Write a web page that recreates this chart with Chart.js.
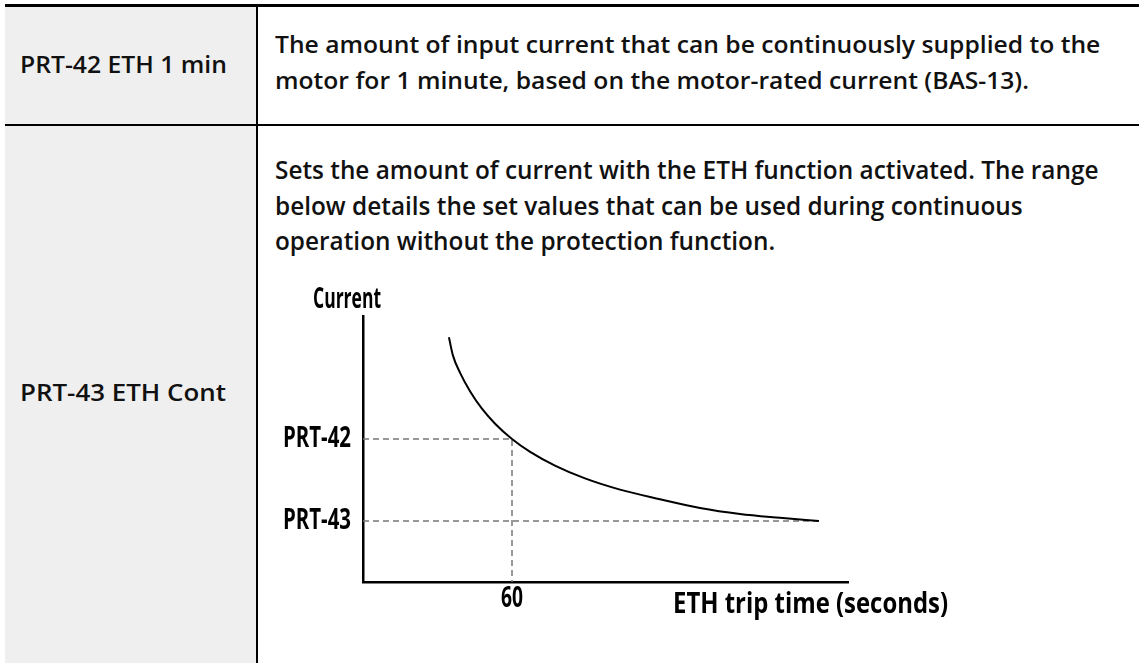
<!DOCTYPE html>
<html>
<head>
<meta charset="utf-8">
<script src="https://cdn.jsdelivr.net/npm/chart.js@4.4.1/dist/chart.umd.min.js"></script>
<style>
  html, body { margin: 0; padding: 0; background: #fff; }
  body {
    width: 1139px; height: 663px; position: relative; overflow: hidden;
    font-family: "Open Sans", sans-serif; font-weight: 600; color: #111;
  }
  .abs { position: absolute; }
  #labelCol { left: 5px; top: 6px; width: 251px; height: 657px; background: #efefef; }
  #topRule { left: 5px; top: 4px; width: 1134px; height: 3px; background: #000; }
  #colRule { left: 256px; top: 6px; width: 2px; height: 657px; background: #000; }
  #rowRule { left: 5px; top: 124px; width: 1134px; height: 2px; background: #000; }
  .fit { transform-origin: 0 0; white-space: nowrap; }
  .fit span { display: inline-block; }
  #row1Label { left: 20px; top: 46px; font-size: 23px; line-height: 36px; }
  #row1Desc { left: 275px; top: 26px; font-size: 23px; line-height: 36px; }
  #row2Label { left: 20px; top: 374px; font-size: 23px; line-height: 36px; }
  #row2Desc { left: 275px; top: 152px; font-size: 26px; line-height: 35.5px; }
  #ethChart { position: absolute; left: 270px; top: 266px; }
</style>
</head>
<body>
<div id="labelCol" class="abs"></div>
<div id="topRule" class="abs"></div>
<div id="colRule" class="abs"></div>
<div id="rowRule" class="abs"></div>

<div id="row1Label" class="abs fit"><div><span>PRT-42 ETH 1 min</span></div></div>
<div id="row1Desc" class="abs fit">
  <div><span>The amount of input current that can be continuously supplied to the</span></div>
  <div><span>motor for 1 minute, based on the motor-rated current (BAS-13).</span></div>
</div>
<div id="row2Label" class="abs fit"><div><span>PRT-43 ETH Cont</span></div></div>
<div id="row2Desc" class="abs fit">
  <div><span>Sets the amount of current with the ETH function activated. The range</span></div>
  <div><span>below details the set values that can be used during continuous</span></div>
  <div><span>operation without the protection function.</span></div>
</div>

<canvas id="ethChart" width="700" height="374"></canvas>

<script>
// curve (trip time in s, current in % of motor rating)
const tripTimes = [34.6, 36.2, 39.1, 43.1, 47.9, 53.2, 60, 67.3, 77.3, 89.4, 103.5, 119.6, 135.7, 151.8, 167.9, 183.6];
const currents = [187.2, 180.6, 174.2, 167.5, 161.1, 155.6, 150, 145.3, 140.3, 135.6, 131.5, 128.0, 124.8, 122.6, 121.2, 120];

const currentTicks = [120, 150];
const currentTickLabels = ['PRT-43', 'PRT-42'];
const timeTicks = [60];
const timeTickLabels = ['60'];
const timeRange = [0, 195.3];
const currentRange = [97.7, 195];

const currentTitle = 'Current';
const timeTitle = 'ETH trip time (seconds)';

function fitBlock(id, targetWidth) {
  const block = document.getElementById(id);
  const firstLine = block.querySelector('span');
  const k = targetWidth / firstLine.getBoundingClientRect().width;
  block.style.transform = 'scaleX(' + k.toFixed(3) + ')';
}

fitBlock('row1Label', 207);
fitBlock('row1Desc', 825);
fitBlock('row2Label', 206);
fitBlock('row2Desc', 823);

// guide lines for the two set points
const prt42Guide = [
  {x: timeRange[0], y: currentTicks[1]},
  {x: timeTicks[0], y: currentTicks[1]},
  {x: timeTicks[0], y: currentRange[0]}
];
const prt43Guide = [
  {x: timeRange[0], y: currentTicks[0]},
  {x: tripTimes[tripTimes.length - 1], y: currentTicks[0]}
];

// axis text is narrow in the original, so each piece is squeezed to its width
const axisText = {
  id: 'axisText',
  afterDraw(chart) {
    const {ctx, chartArea, scales} = chart;
    ctx.save();
    ctx.font = 'bold 29px "Open Sans"';
    ctx.fillStyle = '#000';
    ctx.textBaseline = 'alphabetic';
    const put = (text, x, y, align, width) => {
      const k = width / ctx.measureText(text).width;
      ctx.save();
      ctx.translate(x, y);
      ctx.scale(k, 1);
      ctx.textAlign = align;
      ctx.fillText(text, 0, 0);
      ctx.restore();
    };
    scales.y.ticks.forEach((t, i) => {
      put(currentTickLabels[i], chartArea.left - 12, scales.y.getPixelForValue(t.value) + 8, 'right', 68);
    });
    scales.x.ticks.forEach((t, i) => {
      put(timeTickLabels[i], scales.x.getPixelForValue(t.value), chartArea.bottom + 25, 'center', 22);
    });
    put(currentTitle, chartArea.left - 16, chartArea.top - 8, 'center', 68);
    put(timeTitle, chartArea.right - 175, chartArea.bottom + 31, 'left', 275);
    ctx.restore();
  }
};

const ctx = document.getElementById('ethChart').getContext('2d');
new Chart(ctx, {
  type: 'line',
  data: {
    datasets: [
      {
        data: tripTimes.map((t, i) => ({x: t, y: currents[i]})),
        borderColor: '#000',
        borderWidth: 2,
        pointRadius: 0,
        cubicInterpolationMode: 'monotone',
        fill: false
      },
      {
        data: prt42Guide,
        borderColor: '#777',
        borderWidth: 1.5,
        borderDash: [6, 4],
        pointRadius: 0,
        tension: 0,
        fill: false
      },
      {
        data: prt43Guide,
        borderColor: '#777',
        borderWidth: 1.5,
        borderDash: [6, 4],
        pointRadius: 0,
        tension: 0,
        fill: false
      }
    ]
  },
  options: {
    responsive: false,
    animation: false,
    events: [],
    layout: { padding: { left: 0, top: 50, right: 122, bottom: 0 } },
    plugins: { legend: { display: false }, tooltip: { enabled: false } },
    scales: {
      x: {
        type: 'linear',
        min: timeRange[0],
        max: timeRange[1],
        grid: { display: false, drawTicks: false },
        border: { display: true, color: '#000', width: 2.5 },
        ticks: { display: false },
        afterBuildTicks: scale => { scale.ticks = timeTicks.map(v => ({value: v})); },
        afterFit: scale => { scale.height = 58; }
      },
      y: {
        type: 'linear',
        min: currentRange[0],
        max: currentRange[1],
        grid: { display: false, drawTicks: false },
        border: { display: true, color: '#000', width: 2.5 },
        ticks: { display: false },
        afterBuildTicks: scale => { scale.ticks = currentTicks.map(v => ({value: v})); },
        afterFit: scale => { scale.width = 93; }
      }
    }
  },
  plugins: [axisText]
});
</script>
</body>
</html>
